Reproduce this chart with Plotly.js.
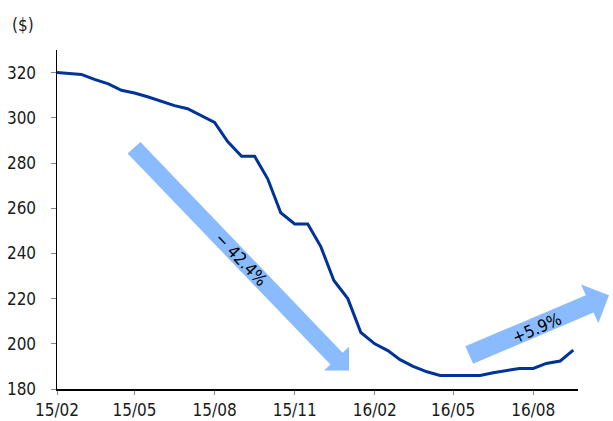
<!DOCTYPE html>
<html>
<head>
<meta charset="utf-8">
<script src="https://cdn.plot.ly/plotly-3.0.1.min.js"></script>
<style>html,body{margin:0;padding:0;background:#fff;}#chart{width:613px;height:421px;}</style>
</head>
<body>
<div id="chart"></div>
<script>
// ---- data ----
var dates = [
  '2015-02-01','2015-02-16','2015-03-01','2015-03-16','2015-04-01','2015-04-16',
  '2015-05-01','2015-05-16','2015-06-01','2015-06-16','2015-07-01','2015-07-16',
  '2015-08-01','2015-08-16','2015-09-01','2015-09-16','2015-10-01','2015-10-16',
  '2015-11-01','2015-11-16','2015-12-01','2015-12-16','2016-01-01','2016-01-16',
  '2016-02-01','2016-02-16','2016-03-01','2016-03-16','2016-04-01','2016-04-16',
  '2016-05-01','2016-05-16','2016-06-01','2016-06-16','2016-07-01','2016-07-16',
  '2016-08-01','2016-08-16','2016-09-01','2016-09-16'
];
var prices = [
  320, 319.6, 319.2, 317, 315, 312.2,
  311, 309.3, 307.3, 305.4, 304, 301.2,
  298, 289.5, 283, 283, 273, 258,
  253, 253, 243, 228, 220, 205,
  200, 197, 193, 190, 187.6, 186,
  186, 186, 186, 187.2, 188.2, 189.1,
  189.1, 191.3, 192.4, 197.2
];
var tickDates = ['2015-02-01','2015-05-01','2015-08-01','2015-11-01','2016-02-01','2016-05-01','2016-08-01'];
var tickLabels = ['15/02','15/05','15/08','15/11','16/02','16/05','16/08'];
var yTicks = [180, 200, 220, 240, 260, 280, 300, 320];
var unitLabel = '($)';
var downLabel = '\u2212 42.4%';
var upLabel = '+5.9%';

// ---- layout geometry (pixels) ----
var W = 613, H = 421;
var L = 57, R = 35, T = 50, B = 32;
var pw = W - L - R, ph = H - T - B;
function px(x){ return (x - L) / pw; }
function py(y){ return (H - B - y) / ph; }
function path(pts){
  return pts.map(function(p, i){ return (i ? 'L' : 'M') + px(p[0]).toFixed(4) + ',' + py(p[1]).toFixed(4); }).join(' ') + ' Z';
}
var arrowDown = [[127.6,153.6],[140.4,141.9],[342.6,352.8],[349,346.7],[349,370.5],[324,370.5],[330.4,364.6]];
var arrowUp = [[465.3,346.3],[585.8,295.2],[581,284.5],[609,295.3],[598.3,323.3],[593.6,312.6],[473.1,363.7]];

var FONT = '"Liberation Sans Narrow", "Arial Narrow", "DejaVu Sans Condensed", sans-serif';
var FS = 17;
var arrowColor = '#89BBFE';

var trace = {
  x: dates, y: prices, type: 'scatter', mode: 'lines',
  line: {color: '#003399', width: 3},
  hoverinfo: 'skip', showlegend: false
};

var layout = {
  width: W, height: H,
  margin: {l: L, r: R, t: T, b: B, pad: 0},
  paper_bgcolor: '#ffffff', plot_bgcolor: '#ffffff',
  font: {family: FONT, size: FS, color: '#1a1a1a'},
  showlegend: false,
  xaxis: {
    type: 'date',
    range: ['2015-02-01', '2016-09-21 10:00'],
    tickmode: 'array', tickvals: tickDates, ticktext: tickLabels,
    showgrid: false, zeroline: false,
    showline: true, linecolor: '#000000', linewidth: 1.5,
    ticks: 'outside', ticklen: 4, tickwidth: 1, tickcolor: '#888888',
    ticklabelstandoff: 1,
    tickfont: {family: FONT, size: FS, color: '#1a1a1a'},
    fixedrange: true
  },
  yaxis: {
    range: [180, 330],
    tickmode: 'array', tickvals: yTicks,
    showgrid: false, zeroline: false,
    showline: true, linecolor: '#000000', linewidth: 1.5,
    ticks: 'outside', ticklen: 5, tickwidth: 1, tickcolor: '#888888',
    ticklabelstandoff: 11,
    tickfont: {family: FONT, size: FS, color: '#1a1a1a'},
    fixedrange: true
  },
  shapes: [
    {type: 'path', xref: 'paper', yref: 'paper', path: path(arrowDown), fillcolor: arrowColor, line: {width: 0}, layer: 'below'},
    {type: 'path', xref: 'paper', yref: 'paper', path: path(arrowUp), fillcolor: arrowColor, line: {width: 0}, layer: 'below'}
  ],
  annotations: [
    {text: unitLabel, xref: 'paper', yref: 'paper', x: px(23), y: py(25), xanchor: 'center', yanchor: 'middle', showarrow: false, font: {family: FONT, size: FS, color: '#1a1a1a'}},
    {text: downLabel, xref: 'paper', yref: 'paper', x: px(241), y: py(259), xanchor: 'center', yanchor: 'middle', showarrow: false, textangle: 46, font: {family: FONT, size: FS, color: '#000000'}},
    {text: upLabel, xref: 'paper', yref: 'paper', x: px(537), y: py(328), xanchor: 'center', yanchor: 'middle', showarrow: false, textangle: -23.5, font: {family: FONT, size: FS, color: '#000000'}}
  ]
};

Plotly.newPlot('chart', [trace], layout, {displayModeBar: false, staticPlot: true});
</script>
</body>
</html>
